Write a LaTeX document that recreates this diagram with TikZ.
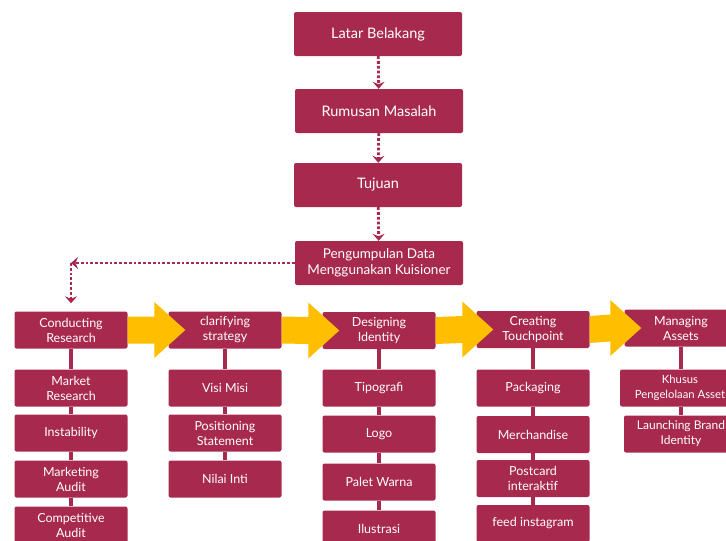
\documentclass[tikz,border=0pt]{standalone}
\usepackage{fontspec}
\setmainfont{Lato}
\usepackage{tikz}
\usetikzlibrary{positioning,arrows.meta,calc}

\definecolor{maroon}{HTML}{A8294E}
\definecolor{amber}{HTML}{FFBF00}

\tikzset{
  mainbox/.style={fill=maroon,rounded corners=2pt,text=white,align=center,
    minimum width=168pt,minimum height=44pt,inner sep=0pt,font=\fontsize{14.5}{17}\selectfont},
  subbox/.style={fill=maroon,rounded corners=2pt,text=white,align=center,
    minimum width=113pt,minimum height=37pt,inner sep=0pt,font=\fontsize{12.5}{15}\selectfont},
  dotarrow/.style={draw=maroon,line width=2.8pt,dash pattern=on 2.8pt off 2pt,
    -{Stealth[length=7pt,width=12pt,inset=2.5pt]}},
  link/.style={draw=maroon,line width=4.5pt},
  bigarrow/.style={fill=amber}
}

\begin{document}
\begin{tikzpicture}[x=1pt,y=-1pt]
	\path[use as bounding box,clip] (0,0) rectangle (726,541);
	% Main chain
	\node[mainbox] (lb) at (378,34) {Latar Belakang};
	\node[mainbox] (rm) at (379,111) {Rumusan Masalah};
	\node[mainbox] (tj) at (378,185) {Tujuan};
	\node[mainbox,font=\fontsize{13.5}{16.5}\selectfont] (pd) at (379,263) {Pengumpulan Data\\Menggunakan Kuisioner};
	\draw[dotarrow] (lb) -- (rm);
	\draw[dotarrow] (rm) -- (tj);
	\draw[dotarrow] (tj) -- (pd);
	
	% Step heads
	\node[subbox] (cr) at (71,330) {Conducting\\Research};
	\node[subbox] (cs) at (225,330) {clarifying\\strategy};
	\node[subbox] (di) at (379,330.5) {Designing\\Identity};
	\node[subbox] (ct) at (533,329.5) {Creating\\Touchpoint};
	\node[subbox] (ma) at (681,328) {Managing\\Assets};
	\coordinate (bend) at (cr.north |- pd.west);
	\draw[dotarrow] (pd.west) -- (bend);
	\draw[dotarrow,shorten >=8pt] (bend) -- (cr.north);
	
	% Conducting Research
	\node[subbox] (cr1) at (71,388) {Market\\Research};
	\node[subbox] (cr2) at (71,433) {Instability};
	\node[subbox] (cr3) at (71,479) {Marketing\\Audit};
	\node[subbox] (cr4) at (71,525) {Competitive\\Audit};
	% clarifying strategy
	\node[subbox] (cs1) at (225,388) {Visi Misi};
	\node[subbox] (cs2) at (225,433) {Positioning\\Statement};
	\node[subbox] (cs3) at (225,479) {Nilai Inti};
	% Designing Identity
	\node[subbox] (di1) at (379,388) {Tipografi};
	\node[subbox] (di2) at (379,434) {Logo};
	\node[subbox] (di3) at (379,482) {Palet Warna};
	\node[subbox] (di4) at (379,529) {Ilustrasi};
	% Creating Touchpoint
	\node[subbox] (ct1) at (533,388) {Packaging};
	\node[subbox] (ct2) at (533,434.5) {Merchandise};
	\node[subbox] (ct3) at (533,478.5) {Postcard\\interaktif};
	\node[subbox] (ct4) at (533,523.5) {feed instagram};
	% Managing Assets
	\node[subbox,minimum width=120pt,font=\fontsize{11.3}{15}\selectfont] (ma1) at (680,388) {Khusus\\Pengelolaan Asset};
	\node[subbox,minimum width=114pt,font=\fontsize{12}{15}\selectfont] (ma2) at (681,434) {Launching Brand\\Identity};
	
	% vertical links
	\foreach \a/\b in {cr/cr1,cr1/cr2,cr2/cr3,cr3/cr4,
	                   cs/cs1,cs1/cs2,cs2/cs3,
	                   di/di1,di1/di2,di2/di3,di3/di4,
	                   ct/ct1,ct1/ct2,ct2/ct3,ct3/ct4}
	  \draw[link] (\a.south) -- (\b.north);
	\draw[link] (ma.south) -- (ma.south |- ma1.north);
	\draw[link] (ma.south |- ma1.south) -- (ma.south |- ma2.north);
	
	% Yellow block arrows
	\foreach \a/\b in {cr/cs,cs/di,di/ct,ct/ma}
	  \fill[bigarrow] ($(\a.east)+(0,-13.5)$) -- ($(\b.west)+(-14,-13.5)$)
	    -- ($(\b.west)+(-14,-28)$) -- ($(\b.west)+(17,0)$)
	    -- ($(\b.west)+(-14,28)$) -- ($(\b.west)+(-14,13.5)$)
	    -- ($(\a.east)+(0,13.5)$) -- cycle;
\end{tikzpicture}
\end{document}
